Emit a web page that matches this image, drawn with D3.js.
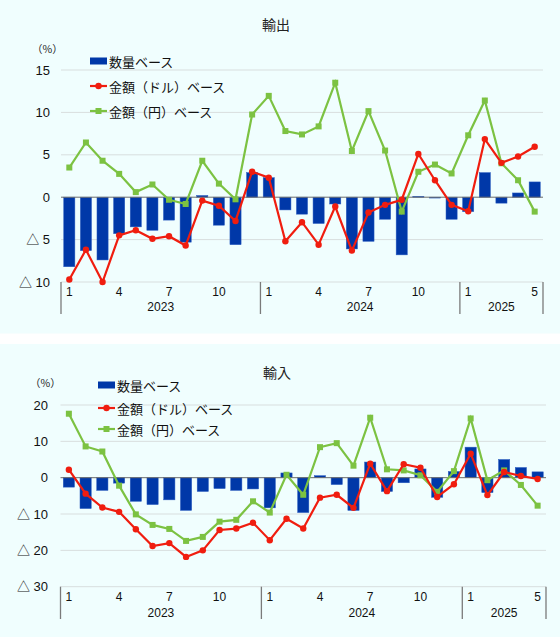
<!DOCTYPE html>
<html><head><meta charset="utf-8">
<script src="https://cdn.jsdelivr.net/npm/d3@7"></script>
<style>
html,body{margin:0;padding:0;background:#fff;}
svg{display:block;font-family:"Liberation Sans","Noto Sans CJK JP",sans-serif;}
</style></head><body>
<svg id="c" width="560" height="637"></svg>
<script>
// months Jan 2023 .. May 2025
const months = d3.range(29);
const monthLabels = {0:"1",3:"4",6:"7",9:"10",12:"1",15:"4",18:"7",21:"10",24:"1",28:"5"};
const years = [{name:"2023",start:0,end:12},{name:"2024",start:12,end:24},{name:"2025",start:24,end:29}];
const legendNames = ["数量ベース","金額（ドル）ベース","金額（円）ベース"];

// Exports (輸出)
const expVolume = [-8.2,-6.3,-7.4,-4.3,-3.5,-3.9,-2.7,-5.3,0.2,-3.3,-5.6,2.9,
                   2.3,-1.5,-2.0,-3.1,-0.8,-6.1,-5.2,-2.6,-6.8,0.1,-0.1,-2.6,
                   -1.7,2.9,-0.7,0.5,1.8];
const expDollar = [-9.7,-6.2,-10.0,-4.5,-3.9,-4.9,-4.6,-5.7,-0.4,-1.0,-2.8,3.0,
                   2.3,-5.2,-2.95,-5.6,-1.1,-6.3,-1.8,-0.9,-0.3,5.1,2.0,-0.9,
                   -1.65,6.85,4.05,4.8,5.95];
const expYen = [3.5,6.45,4.3,2.75,0.6,1.5,-0.3,-0.8,4.3,1.6,-0.25,9.75,
                11.95,7.8,7.4,8.35,13.5,5.45,10.15,5.5,-1.7,3.0,3.85,2.8,
                7.3,11.4,4.0,2.0,-1.7];
const expTicks = [15,10,5,0,-5,-10];

// Imports (輸入)
const impVolume = [-2.6,-8.5,-3.5,-1.5,-6.5,-7.4,-6.1,-9.0,-3.8,-3.0,-3.5,-3.1,
                   -8.3,1.3,-9.6,0.55,-1.9,-9.0,4.3,-3.8,-1.4,2.4,-5.4,1.7,
                   8.4,-4.1,5.0,2.8,1.6];
const impDollar = [2.2,-4.4,-8.2,-9.4,-14.2,-18.8,-18.0,-21.8,-20.0,-14.4,-14.0,-12.4,
                   -17.2,-11.3,-14.0,-5.5,-4.7,-8.3,3.85,-3.7,3.7,2.75,-5.3,-1.8,
                   6.6,-4.8,1.55,0.45,-0.35];
const impYen = [17.6,8.6,7.2,-2.2,-10.1,-13.0,-14.1,-17.4,-16.3,-12.1,-11.6,-6.5,
                -9.6,0.8,-4.7,8.4,9.5,3.3,16.5,2.3,2.0,0.65,-3.9,1.8,
                16.3,-0.7,2.0,-2.0,-7.7];
const impTicks = [20,10,0,-10,-20,-30];

const svg = d3.select("#c");
const BG = "#f0fefe", BLUE = "#0038a8", RED = "#f01d0f", GREEN = "#7cc242";

// backgrounds
svg.append("rect").attr("x",0).attr("y",0).attr("width",560).attr("height",333.5).attr("fill",BG);
svg.append("rect").attr("x",0).attr("y",344).attr("width",560).attr("height",293).attr("fill",BG);

function fmt(v){ return v<0 ? "△ " + Math.abs(v) : String(v); }

function panel(cfg){
  const g = svg.append("g");
  const x = d3.scaleBand().domain(months).range([cfg.x0,cfg.x1]).paddingInner(0.33).paddingOuter(0.165);
  const y = d3.scaleLinear().domain(cfg.dom).range([cfg.y0,cfg.y1]);
  // title
  g.append("text").attr("x",cfg.titleX).attr("y",cfg.titleY).attr("text-anchor","middle")
    .attr("dominant-baseline","central").attr("font-size",14).attr("fill","#222")
    .attr("font-family","Noto Sans CJK JP").text(cfg.title);
  g.append("text").attr("x",cfg.pctX).attr("y",cfg.pctY).attr("dominant-baseline","central")
    .attr("font-size",10.5).attr("fill","#222").attr("font-family","Noto Sans CJK JP").text("（%）");
  // grid
  g.selectAll(".grid").data(cfg.ticks.filter(t=>t!==0)).enter().append("line")
    .attr("x1",cfg.x0).attr("x2",cfg.x1).attr("y1",d=>y(d)).attr("y2",d=>y(d))
    .attr("stroke","#d8dede").attr("stroke-width",1);
  // y tick labels
  g.selectAll(".yt").data(cfg.ticks).enter().append("text")
    .attr("x",cfg.tickX).attr("y",d=>y(d)).attr("text-anchor","end").attr("dominant-baseline","central")
    .attr("font-size",13).attr("fill","#111").attr("xml:space","preserve").text(d=>fmt(d));
  // bars
  g.selectAll(".bar").data(cfg.vol).enter().append("rect")
    .attr("x",(d,i)=>x(i)).attr("width",x.bandwidth())
    .attr("y",d=>y(Math.max(0,d))).attr("height",d=>Math.abs(y(d)-y(0)))
    .attr("fill",BLUE).attr("stroke","#2a5cc0").attr("stroke-width",0.5);
  // zero line
  g.append("line").attr("x1",cfg.x0).attr("x2",cfg.x1).attr("y1",y(0)).attr("y2",y(0))
    .attr("stroke","#6b6b6b").attr("stroke-width",1);
  const cx = i => x(i)+x.bandwidth()/2;
  const line = d3.line().x((d,i)=>cx(i)).y(d=>y(d));
  // yen line
  g.append("path").attr("d",line(cfg.yen)).attr("fill","none").attr("stroke",GREEN).attr("stroke-width",2.2);
  g.selectAll(".sq").data(cfg.yen).enter().append("rect")
    .attr("x",(d,i)=>cx(i)-3).attr("y",d=>y(d)-3).attr("width",6).attr("height",6).attr("fill",GREEN);
  // dollar line
  g.append("path").attr("d",line(cfg.dol)).attr("fill","none").attr("stroke",RED).attr("stroke-width",2.2);
  g.selectAll(".ci").data(cfg.dol).enter().append("circle")
    .attr("cx",(d,i)=>cx(i)).attr("cy",d=>y(d)).attr("r",3.2).attr("fill",RED);
  // x axis separators
  const step = (cfg.x1-cfg.x0)/months.length;
  const seps = [0,12,24,29].map(k=>cfg.x0+k*step);
  g.selectAll(".sep").data(seps).enter().append("line")
    .attr("x1",d=>d).attr("x2",d=>d).attr("y1",cfg.y0).attr("y2",cfg.sepBottom)
    .attr("stroke","#7a7a7a").attr("stroke-width",1.3);
  g.selectAll(".ml").data(Object.keys(monthLabels)).enter().append("text")
    .attr("x",d=>cx(+d)).attr("y",cfg.monthY).attr("text-anchor","middle").attr("dominant-baseline","central")
    .attr("font-size",12).attr("fill","#111").text(d=>monthLabels[d]);
  g.selectAll(".yl").data(years).enter().append("text")
    .attr("x",d=>(cfg.x0+d.start*step + cfg.x0+d.end*step)/2).attr("y",cfg.yearY)
    .attr("text-anchor","middle").attr("dominant-baseline","central")
    .attr("font-size",12).attr("fill","#111").text(d=>d.name);
  // legend
  const L = g.append("g");
  const lx = cfg.legX, ly = cfg.legY;
  L.append("rect").attr("x",lx).attr("y",ly[0]-3.5).attr("width",17).attr("height",7).attr("fill",BLUE);
  L.append("line").attr("x1",lx).attr("x2",lx+17).attr("y1",ly[1]).attr("y2",ly[1]).attr("stroke",RED).attr("stroke-width",2.2);
  L.append("circle").attr("cx",lx+8.5).attr("cy",ly[1]).attr("r",3.2).attr("fill",RED);
  L.append("line").attr("x1",lx).attr("x2",lx+17).attr("y1",ly[2]).attr("y2",ly[2]).attr("stroke",GREEN).attr("stroke-width",2.2);
  L.append("rect").attr("x",lx+5.5).attr("y",ly[2]-3).attr("width",6).attr("height",6).attr("fill",GREEN);
  legendNames.forEach((n,i)=>{
    L.append("text").attr("x",lx+19).attr("y",ly[i]).attr("dominant-baseline","central")
      .attr("font-size",13).attr("fill","#111").attr("font-family","Noto Sans CJK JP").text(n);
  });
}

panel({title:"輸出",titleX:276,titleY:24,pctX:32,pctY:48,
  x0:61,x1:543,y0:282,y1:70,dom:[-10,15],ticks:expTicks,tickX:50,
  vol:expVolume,dol:expDollar,yen:expYen,
  sepBottom:314,monthY:292,yearY:307,legX:90,legY:[61,86,111]});

panel({title:"輸入",titleX:277,titleY:372,pctX:30,pctY:382,
  x0:60.5,x1:546,y0:586.7,y1:405,dom:[-30,20],ticks:impTicks,tickX:48,
  vol:impVolume,dol:impDollar,yen:impYen,
  sepBottom:619,monthY:597,yearY:613,legX:98,legY:[385,408,429]});
</script>
</body></html>
